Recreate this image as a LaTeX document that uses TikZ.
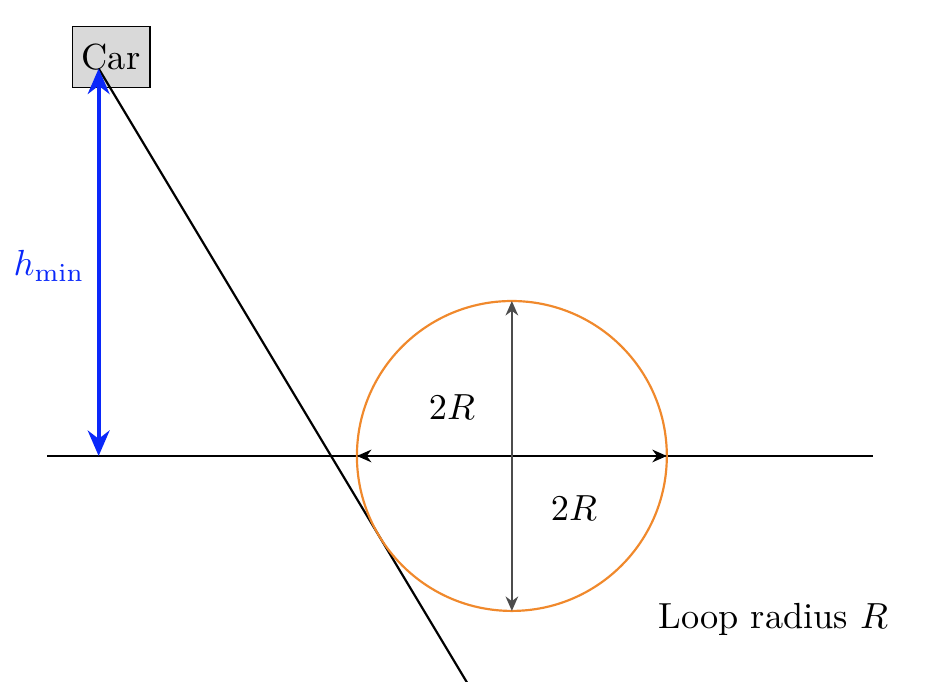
\documentclass[tikz,border=0pt]{standalone}
\usetikzlibrary{arrows.meta}
\definecolor{hblue}{RGB}{10,40,250}
\definecolor{loop}{RGB}{240,137,44}
\tikzset{
  carbox/.style={draw=black, fill=black!15, minimum width=0.75cm, minimum height=0.59cm, inner sep=2pt},
  hmin/.style={draw=hblue, line width=1.1pt, {Stealth[length=7pt,width=6pt]}-{Stealth[length=7pt,width=6pt]}},
  dim/.style={thin, {Stealth[length=4pt,width=3.5pt]}-{Stealth[length=4pt,width=3.5pt]}},
  ground/.style={black, semithick},
  ramp/.style={black, semithick},
  loopc/.style={draw=loop, semithick}
}
\begin{document}
\begin{tikzpicture}
\useasboundingbox (-0.455,-2.188) rectangle (8.567,4.414);
\clip (-0.455,-2.188) rectangle (8.567,4.414);
% coordinates
\coordinate (car) at (0.5,3.75);
\coordinate (base) at (0.5,0);
\coordinate (gl) at (0,0);
\coordinate (gr) at (8,0);
\coordinate (O) at (4.5,0);
\coordinate (W) at (3,0);
\coordinate (E) at (6,0);
\coordinate (N) at (4.5,1.5);
\coordinate (S) at (4.5,-1.5);
\coordinate (rampend) at (5,-3.75);
% car box
\node[carbox] (carnode) at (0.62,3.86) {Car};
% ground line
\draw[ground] (gl) -- (gr);
% ramp
\draw[ramp] (car) -- (rampend);
% loop
\draw[loopc] (O) circle (1.5);
% diameters
\draw[dim] (W) -- (E);
\draw[dim, black!70] (N) -- (S);
% h_min arrow
\draw[hmin] (base) -- node[left, text=hblue, yshift=-1pt] (hlabel) {$h_{\min}$} (car);
% labels
\node (d1) at (3.92,0.47) {$2R$};
\node (d2) at (5.1,-0.5) {$2R$};
\node (lr) at (7.03,-1.58) {Loop radius $R$};
\end{tikzpicture}
\end{document}
